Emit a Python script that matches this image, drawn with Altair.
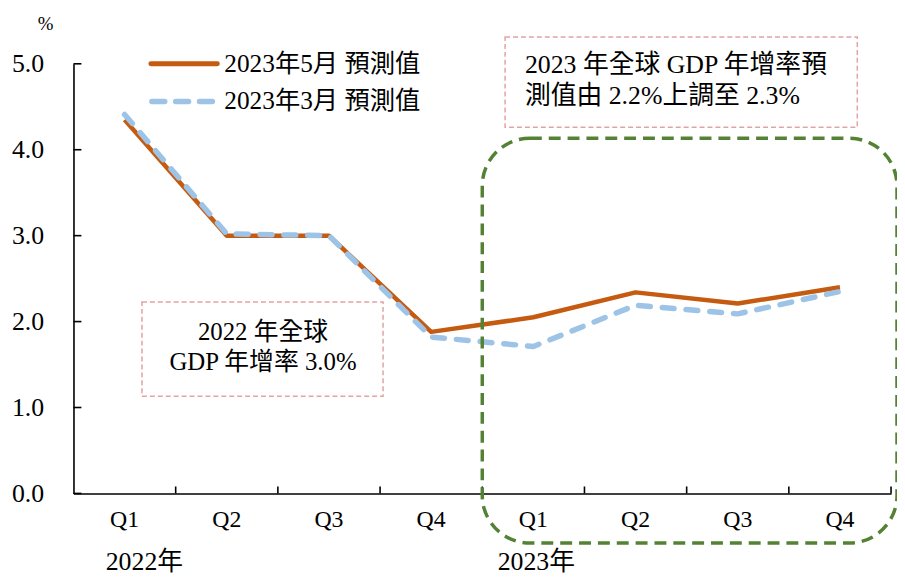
import altair as alt
import pandas as pd

quarters = ["2022 Q1", "2022 Q2", "2022 Q3", "2022 Q4", "2023 Q1", "2023 Q2", "2023 Q3", "2023 Q4"]
may_forecast = [4.35, 3.00, 3.00, 1.88, 2.05, 2.34, 2.21, 2.40]
mar_forecast = [4.41, 3.02, 3.00, 1.82, 1.71, 2.19, 2.09, 2.35]
y_ticks = [0, 1, 2, 3, 4, 5]
series_names = ["2023年5月 預測值", "2023年3月 預測值"]
year_labels = ["2022年", "2023年"]
note_2022 = ["2022 年全球", "GDP 年增率 3.0%"]
note_2023 = ["2023 年全球 GDP 年增率預", "測值由 2.2%上調至 2.3%"]

ORANGE = "#C55A11"
BLUE = "#9DC3E6"
GREEN = "#548235"
PINK = "#E3A3A3"
FONT = "'Liberation Serif', 'Times New Roman', 'Noto Sans CJK TC', serif"

W, H = 824, 433

df = pd.DataFrame({"q": quarters, "may": may_forecast, "mar": mar_forecast})

xscale = alt.Scale(type="band", domain=quarters, paddingInner=0, paddingOuter=0)
yscale = alt.Scale(domain=[0, 5], nice=False)

x_axis = alt.Axis(
    title=None, ticks=False, tickSize=0, labelExpr="substring(datum.label, 5)",
    labelFont=FONT, labelFontSize=24, labelColor="black", labelPadding=14,
    domainColor="black", domainWidth=1.6, grid=False, labelAngle=0,
)
y_axis = alt.Axis(
    title=None, values=y_ticks, format=".1f", ticks=False, tickSize=0,
    labelFont=FONT, labelFontSize=26, labelColor="black", labelPadding=30,
    domainColor="black", domainWidth=1.6, grid=False,
)

base = alt.Chart(df)

line_may = base.mark_line(color=ORANGE, strokeWidth=4.5, strokeJoin="round").encode(
    x=alt.X("q:N", scale=xscale, axis=x_axis, sort=quarters, bandPosition=0.5),
    y=alt.Y("may:Q", scale=yscale, axis=y_axis),
)
line_mar = base.mark_line(color=BLUE, strokeWidth=5.5, strokeDash=[12, 12], strokeCap="round", strokeJoin="round").encode(
    x=alt.X("q:N", scale=xscale, sort=quarters, bandPosition=0.5),
    y=alt.Y("mar:Q", scale=yscale),
)

# inward tick marks on x axis (at band edges)
xticks = base.mark_rule(color="black", strokeWidth=1.6).encode(
    x=alt.X("q:N", scale=xscale, sort=quarters, bandPosition=1),
    y=alt.value(H - 7), y2=alt.value(H),
)
# inward tick marks on y axis
yt = pd.DataFrame({"v": y_ticks})
yticks = alt.Chart(yt).mark_rule(color="black", strokeWidth=1.6).encode(
    y=alt.Y("v:Q", scale=yscale), x=alt.value(0), x2=alt.value(8),
)

# unit label
unit = alt.Chart(pd.DataFrame({"t": ["%"]})).mark_text(
    font=FONT, fontSize=19, color="black", align="center", baseline="middle"
).encode(x=alt.value(-28), y=alt.value(-40), text="t:N")

# year labels
yr1 = alt.Chart(pd.DataFrame({"q": [quarters[0]], "t": [year_labels[0]]})).mark_text(
    font=FONT, fontSize=26, color="black", align="left", baseline="middle", dx=-19
).encode(x=alt.X("q:N", scale=xscale, sort=quarters, bandPosition=0.5), y=alt.value(502), text="t:N")
yr2 = alt.Chart(pd.DataFrame({"q": [quarters[4]], "t": [year_labels[1]]})).mark_text(
    font=FONT, fontSize=26, color="black", align="left", baseline="middle", dx=-36
).encode(x=alt.X("q:N", scale=xscale, sort=quarters, bandPosition=0.5), y=alt.value(502), text="t:N")

# manual legend
leg = pd.DataFrame({"name": series_names})
leg_may = alt.Chart(leg.iloc[[0]]).mark_rule(color=ORANGE, strokeWidth=5, strokeCap="round").encode(
    x=alt.value(78), x2=alt.value(145), y=alt.value(0))
leg_mar = alt.Chart(leg.iloc[[1]]).mark_rule(color=BLUE, strokeWidth=5.5, strokeCap="round", strokeDash=[13, 11]).encode(
    x=alt.value(79), x2=alt.value(145), y=alt.value(38))
leg_t1 = alt.Chart(leg.iloc[[0]]).mark_text(font=FONT, fontSize=25.5, align="left", baseline="middle", color="black").encode(
    x=alt.value(152), y=alt.value(0), text="name:N")
leg_t2 = alt.Chart(leg.iloc[[1]]).mark_text(font=FONT, fontSize=25.5, align="left", baseline="middle", color="black").encode(
    x=alt.value(152), y=alt.value(38), text="name:N")

# annotation boxes
box1 = alt.Chart(pd.DataFrame({"t": ["\n".join(note_2022)]})).mark_rect(
    fill=None, fillOpacity=0, stroke=PINK, strokeWidth=1.5, strokeDash=[5, 3]
).encode(x=alt.value(69), x2=alt.value(312), y=alt.value(240), y2=alt.value(335))
txt1 = alt.Chart(pd.DataFrame({"t": ["\n".join(note_2022)]})).mark_text(
    font=FONT, fontSize=25, align="center", baseline="middle", lineBreak="\n", lineHeight=31, color="black"
).encode(x=alt.value(191), y=alt.value(270), text="t:N")

box2 = alt.Chart(pd.DataFrame({"t": ["\n".join(note_2023)]})).mark_rect(
    fill=None, fillOpacity=0, stroke=PINK, strokeWidth=1.5, strokeDash=[5, 3]
).encode(x=alt.value(435), x2=alt.value(790), y=alt.value(-27), y2=alt.value(64))
txt2 = alt.Chart(pd.DataFrame({"t": ["\n".join(note_2023)]})).mark_text(
    font=FONT, fontSize=26, align="left", baseline="middle", lineBreak="\n", lineHeight=32, color="black"
).encode(x=alt.value(455), y=alt.value(1), text="t:N")

# highlight region for 2023
green = alt.Chart(pd.DataFrame({"t": ["2023"]})).mark_rect(
    fill=None, fillOpacity=0, stroke=GREEN, strokeWidth=3.5, strokeDash=[12, 7], cornerRadius=48
).encode(x=alt.value(412), x2=alt.value(830), y=alt.value(75), y2=alt.value(483))

chart = alt.layer(
    line_may, line_mar, xticks, yticks, unit, yr1, yr2,
    leg_may, leg_mar, leg_t1, leg_t2, box1, txt1, box2, txt2, green,
).properties(
    width=W, height=H,
    autosize=alt.AutoSizeParams(type="none"),
    padding={"left": 66, "top": 54, "right": 6, "bottom": 84},
    background="white",
).configure_view(stroke=None)

chart.save("out.html", embed_options={"renderer": "svg", "actions": False})
